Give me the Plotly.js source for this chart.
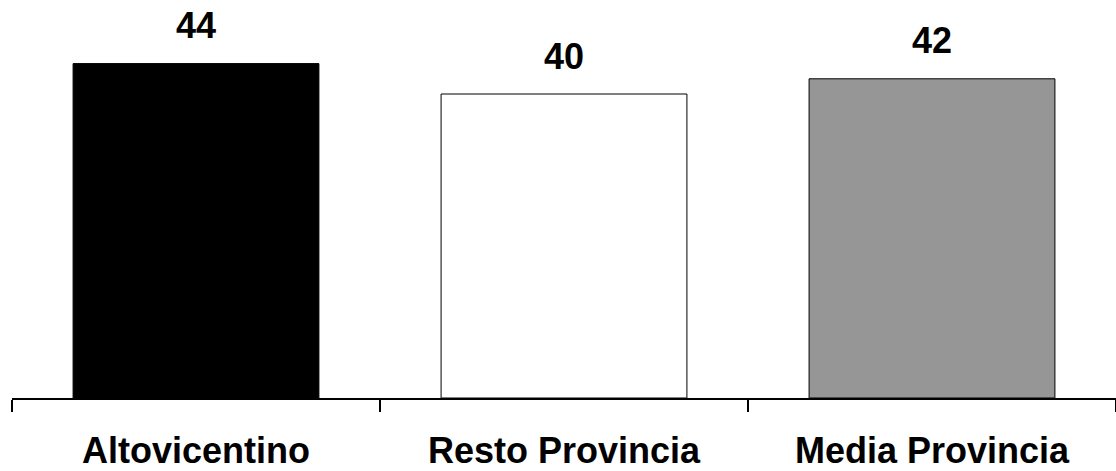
<!DOCTYPE html>
<html>
<head>
<meta charset="utf-8">
<script src="https://cdn.plot.ly/plotly-3.0.1.min.js"></script>
<style>html,body{margin:0;padding:0;background:#fff;}#chart{width:1116px;height:471px;}</style>
</head>
<body>
<div id="chart"></div>
<script>
const categories = ["Altovicentino", "Resto Provincia", "Media Provincia"];
const values = [44, 40, 42];
const barColors = ["#000000", "#ffffff", "#969696"];

const trace = {
  type: "bar",
  x: categories,
  y: values,
  marker: {color: barColors, line: {color: "#000000", width: 1}},
  hoverinfo: "none"
};

const annotations = categories.map((c, i) => ({
  x: c, y: values[i], xref: "x", yref: "y",
  text: String(values[i]), showarrow: false,
  yanchor: "middle", yshift: 38,
  font: {family: "Liberation Sans, Arial, sans-serif", size: 36, color: "#000", weight: "bold"}
}));

const layout = {
  width: 1116, height: 471,
  margin: {l: 12, r: 0, t: 18, b: 73},
  paper_bgcolor: "#fff", plot_bgcolor: "#fff",
  showlegend: false,
  bargap: 0.332,
  font: {family: "Liberation Sans, Arial, sans-serif", color: "#000"},
  xaxis: {
    type: "category",
    showline: true, linecolor: "#000", linewidth: 1.5,
    ticks: "outside", tickson: "boundaries", ticklen: 12, tickwidth: 1.5, tickcolor: "#000",
    ticklabelstandoff: 20,
    tickfont: {family: "Liberation Sans, Arial, sans-serif", size: 36, color: "#000", weight: "bold"},
    showgrid: false, zeroline: false, fixedrange: true
  },
  yaxis: {
    range: [0, 50], visible: false, showgrid: false, zeroline: false, fixedrange: true
  },
  annotations: annotations
};

Plotly.newPlot("chart", [trace], layout, {displayModeBar: false, staticPlot: true});
</script>
</body>
</html>
